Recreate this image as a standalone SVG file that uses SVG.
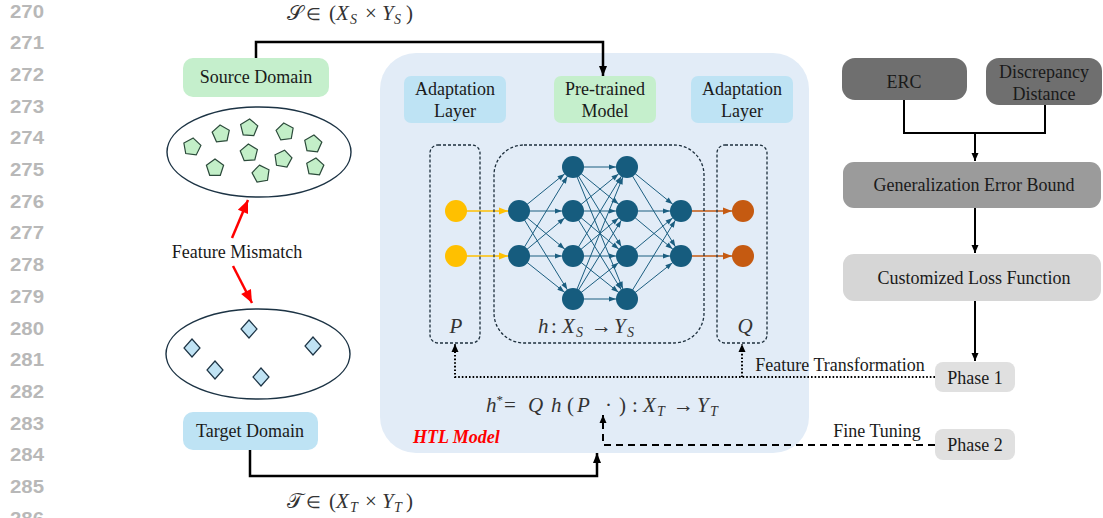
<svg xmlns="http://www.w3.org/2000/svg" width="1103" height="518" viewBox="0 0 1103 518">
<defs>
<style>
.ln{font-family:"Liberation Sans",Arial,sans-serif;font-weight:bold;font-size:18px;fill:#b8b8b8;text-anchor:middle}
.t{font-family:"Liberation Serif","Times New Roman",serif;font-size:18px;fill:#1a1a1a;text-anchor:middle}
.m{font-family:"Liberation Serif","Times New Roman",serif;font-size:21px;fill:#333}
.i{font-style:italic}
.sub{font-size:14px;font-style:italic}
.ell{fill:none;stroke:#1c3344;stroke-width:1.4}
.pent{fill:#c3efc8;stroke:#2b4a3a;stroke-width:1.2}
.dia{fill:#c0e3f4;stroke:#1c3344;stroke-width:1.2}
.dbox{fill:none;stroke:#1c2e3c;stroke-width:1.3;stroke-dasharray:3 2}
.nn{stroke:#1b5e80;stroke-width:1;marker-end:url(#mb)}
.blue{fill:#165c7e}
.yel{fill:#ffc000}
.org{fill:#c55a11}
.blk{fill:none;stroke:#000;stroke-width:2.5}
.conn{fill:none;stroke:#000;stroke-width:2}
</style>
<marker id="mb" markerUnits="userSpaceOnUse" viewBox="-7 -3 20 6" markerWidth="20" markerHeight="6" refX="11" refY="0" orient="auto" overflow="visible"><path d="M-7,-2.6 L0,0 L-7,2.6 z" fill="#1b5e80"/></marker>
<marker id="my" markerUnits="userSpaceOnUse" viewBox="-9 -4 22 8" markerWidth="22" markerHeight="8" refX="11" refY="0" orient="auto" overflow="visible"><path d="M-9,-3.5 L0,0 L-9,3.5 z" fill="#ffc000"/></marker>
<marker id="mo" markerUnits="userSpaceOnUse" viewBox="-9 -4 22 8" markerWidth="22" markerHeight="8" refX="11" refY="0" orient="auto" overflow="visible"><path d="M-9,-3.5 L0,0 L-9,3.5 z" fill="#c55a11"/></marker>
<marker id="mk" markerUnits="userSpaceOnUse" viewBox="-10 -4 10 8" markerWidth="10" markerHeight="8" refX="0" refY="0" orient="auto" overflow="visible"><path d="M-10,-4 L0,0 L-10,4 z" fill="#000"/></marker>
<marker id="mks" markerUnits="userSpaceOnUse" viewBox="-8 -3.5 8 7" markerWidth="8" markerHeight="7" refX="0" refY="0" orient="auto" overflow="visible"><path d="M-8,-3.5 L0,0 L-8,3.5 z" fill="#000"/></marker>
<marker id="mr" markerUnits="userSpaceOnUse" viewBox="-13 -5.5 13 11" markerWidth="13" markerHeight="11" refX="0" refY="0" orient="auto" overflow="visible"><path d="M-13,-5.5 L0,0 L-13,5.5 z" fill="#ff0000"/></marker>
</defs>
<rect width="1103" height="518" fill="#fff"/>

<g id="line-numbers">
<text class="ln" x="27" y="17.5" textLength="34" lengthAdjust="spacingAndGlyphs">270</text>
<text class="ln" x="27" y="49.2" textLength="34" lengthAdjust="spacingAndGlyphs">271</text>
<text class="ln" x="27" y="80.9" textLength="34" lengthAdjust="spacingAndGlyphs">272</text>
<text class="ln" x="27" y="112.6" textLength="34" lengthAdjust="spacingAndGlyphs">273</text>
<text class="ln" x="27" y="144.3" textLength="34" lengthAdjust="spacingAndGlyphs">274</text>
<text class="ln" x="27" y="176" textLength="34" lengthAdjust="spacingAndGlyphs">275</text>
<text class="ln" x="27" y="207.7" textLength="34" lengthAdjust="spacingAndGlyphs">276</text>
<text class="ln" x="27" y="239.4" textLength="34" lengthAdjust="spacingAndGlyphs">277</text>
<text class="ln" x="27" y="271.1" textLength="34" lengthAdjust="spacingAndGlyphs">278</text>
<text class="ln" x="27" y="302.8" textLength="34" lengthAdjust="spacingAndGlyphs">279</text>
<text class="ln" x="27" y="334.5" textLength="34" lengthAdjust="spacingAndGlyphs">280</text>
<text class="ln" x="27" y="366.2" textLength="34" lengthAdjust="spacingAndGlyphs">281</text>
<text class="ln" x="27" y="397.9" textLength="34" lengthAdjust="spacingAndGlyphs">282</text>
<text class="ln" x="27" y="429.6" textLength="34" lengthAdjust="spacingAndGlyphs">283</text>
<text class="ln" x="27" y="461.3" textLength="34" lengthAdjust="spacingAndGlyphs">284</text>
<text class="ln" x="27" y="493" textLength="34" lengthAdjust="spacingAndGlyphs">285</text>
<text class="ln" x="27" y="524.7" textLength="34" lengthAdjust="spacingAndGlyphs">286</text>
</g>

<g id="htl-model">
<rect x="380" y="53" width="429" height="400" rx="36" fill="#e2ecf7"/>
<text x="413" y="443" font-family="Liberation Serif,serif" font-size="18" font-weight="bold" font-style="italic" fill="#ff0000">HTL Model</text>
</g>

<g id="connectors">
<polyline class="blk" points="256,58 256,42 603,42 603,76" marker-end="url(#mk)"/>
<polyline class="blk" points="250,450 250,476 597,476 597,453" marker-end="url(#mk)"/>
<line x1="232" y1="238" x2="248" y2="200" stroke="#ff0000" stroke-width="2.5" marker-end="url(#mr)"/>
<line x1="233" y1="266" x2="252" y2="303" stroke="#ff0000" stroke-width="2.5" marker-end="url(#mr)"/>
<polyline points="935,377 455,377 455,344" fill="none" stroke="#000" stroke-width="2" stroke-dasharray="1.6 2" marker-end="url(#mks)"/>
<polyline points="742,377 742,344" fill="none" stroke="#000" stroke-width="2" stroke-dasharray="1.6 2" marker-end="url(#mks)"/>
<polyline points="935,445 603,445 603,415" fill="none" stroke="#000" stroke-width="2" stroke-dasharray="7 5" marker-end="url(#mks)"/>
<polyline class="conn" points="904,100 904,133 1045,133 1045,105"/>
<line class="conn" x1="975" y1="133" x2="975" y2="161" marker-end="url(#mks)"/>
<line class="conn" x1="975" y1="208" x2="975" y2="253" marker-end="url(#mks)"/>
<line class="conn" x1="975" y1="301" x2="975" y2="361" marker-end="url(#mks)"/>
<line x1="456" y1="211" x2="519" y2="211" stroke="#ffc000" stroke-width="1.6" marker-end="url(#my)"/>
<line x1="456" y1="256" x2="519" y2="256" stroke="#ffc000" stroke-width="1.6" marker-end="url(#my)"/>
<line x1="681" y1="211" x2="743" y2="211" stroke="#c55a11" stroke-width="1.6" marker-end="url(#mo)"/>
<line x1="681" y1="256" x2="743" y2="256" stroke="#c55a11" stroke-width="1.6" marker-end="url(#mo)"/>
<g id="nn-edges">
<line class="nn" x1="519" y1="211" x2="573" y2="167"/><line class="nn" x1="519" y1="211" x2="573" y2="211"/><line class="nn" x1="519" y1="211" x2="573" y2="256"/><line class="nn" x1="519" y1="211" x2="573" y2="299"/>
<line class="nn" x1="519" y1="256" x2="573" y2="167"/><line class="nn" x1="519" y1="256" x2="573" y2="211"/><line class="nn" x1="519" y1="256" x2="573" y2="256"/><line class="nn" x1="519" y1="256" x2="573" y2="299"/>
<line class="nn" x1="573" y1="167" x2="627" y2="167"/><line class="nn" x1="573" y1="167" x2="627" y2="211"/><line class="nn" x1="573" y1="167" x2="627" y2="256"/><line class="nn" x1="573" y1="167" x2="627" y2="299"/>
<line class="nn" x1="573" y1="211" x2="627" y2="167"/><line class="nn" x1="573" y1="211" x2="627" y2="211"/><line class="nn" x1="573" y1="211" x2="627" y2="256"/><line class="nn" x1="573" y1="211" x2="627" y2="299"/>
<line class="nn" x1="573" y1="256" x2="627" y2="167"/><line class="nn" x1="573" y1="256" x2="627" y2="211"/><line class="nn" x1="573" y1="256" x2="627" y2="256"/><line class="nn" x1="573" y1="256" x2="627" y2="299"/>
<line class="nn" x1="573" y1="299" x2="627" y2="167"/><line class="nn" x1="573" y1="299" x2="627" y2="211"/><line class="nn" x1="573" y1="299" x2="627" y2="256"/><line class="nn" x1="573" y1="299" x2="627" y2="299"/>
<line class="nn" x1="627" y1="167" x2="681" y2="211"/><line class="nn" x1="627" y1="211" x2="681" y2="211"/><line class="nn" x1="627" y1="256" x2="681" y2="211"/><line class="nn" x1="627" y1="299" x2="681" y2="211"/>
<line class="nn" x1="627" y1="167" x2="681" y2="256"/><line class="nn" x1="627" y1="211" x2="681" y2="256"/><line class="nn" x1="627" y1="256" x2="681" y2="256"/><line class="nn" x1="627" y1="299" x2="681" y2="256"/>
</g>
</g>

<g id="source-math"><text class="m" y="20" font-size="20"><tspan x="287">𝒮</tspan><tspan x="306" font-size="17">∈</tspan><tspan x="329">(</tspan><tspan x="336" class="i">X</tspan><tspan class="sub" x="350" dy="4">S</tspan><tspan x="365" dy="-4">×</tspan><tspan x="382" class="i">Y</tspan><tspan class="sub" x="394" dy="4">S</tspan><tspan x="406" dy="-4">)</tspan></text></g>
<g id="target-math"><text class="m" y="508" font-size="20"><tspan x="287">𝒯</tspan><tspan x="306" font-size="17">∈</tspan><tspan x="329">(</tspan><tspan x="336" class="i">X</tspan><tspan class="sub" x="350" dy="4">T</tspan><tspan x="365" dy="-4">×</tspan><tspan x="382" class="i">Y</tspan><tspan class="sub" x="394" dy="4">T</tspan><tspan x="406" dy="-4">)</tspan></text></g>

<g id="source-domain">
<rect x="183" y="58" width="146" height="39" rx="10" fill="#c5efcc"/>
<text class="t" x="256" y="83">Source Domain</text>
</g>
<g id="source-set">
<ellipse class="ell" cx="259" cy="152" rx="92" ry="45"/>
<g id="pentagons">
<polygon class="pent" transform="translate(192,147) rotate(8)" points="0,-9 8.6,-2.8 5.3,7.3 -5.3,7.3 -8.6,-2.8"/>
<polygon class="pent" transform="translate(221,134) rotate(-6)" points="0,-9 8.6,-2.8 5.3,7.3 -5.3,7.3 -8.6,-2.8"/>
<polygon class="pent" transform="translate(249,128) rotate(4)" points="0,-9 8.6,-2.8 5.3,7.3 -5.3,7.3 -8.6,-2.8"/>
<polygon class="pent" transform="translate(285,132) rotate(-8)" points="0,-9 8.6,-2.8 5.3,7.3 -5.3,7.3 -8.6,-2.8"/>
<polygon class="pent" transform="translate(313,144) rotate(6)" points="0,-9 8.6,-2.8 5.3,7.3 -5.3,7.3 -8.6,-2.8"/>
<polygon class="pent" transform="translate(249,153) rotate(-4)" points="0,-9 8.6,-2.8 5.3,7.3 -5.3,7.3 -8.6,-2.8"/>
<polygon class="pent" transform="translate(283,159) rotate(10)" points="0,-9 8.6,-2.8 5.3,7.3 -5.3,7.3 -8.6,-2.8"/>
<polygon class="pent" transform="translate(215,168) rotate(0)" points="0,-9 8.6,-2.8 5.3,7.3 -5.3,7.3 -8.6,-2.8"/>
<polygon class="pent" transform="translate(261,174) rotate(-10)" points="0,-9 8.6,-2.8 5.3,7.3 -5.3,7.3 -8.6,-2.8"/>
<polygon class="pent" transform="translate(315,167) rotate(6)" points="0,-9 8.6,-2.8 5.3,7.3 -5.3,7.3 -8.6,-2.8"/>
</g>
</g>
<g id="feature-mismatch"><text class="t" x="237" y="258">Feature Mismatch</text></g>
<g id="target-set">
<ellipse class="ell" cx="258" cy="354" rx="92" ry="45"/>
<polygon class="dia" points="249,320 257,329 249,338 241,329"/>
<polygon class="dia" points="192,339 200,348 192,357 184,348"/>
<polygon class="dia" points="313,337 321,346 313,355 305,346"/>
<polygon class="dia" points="215,361 223,370 215,379 207,370"/>
<polygon class="dia" points="261,368 269,377 261,386 253,377"/>
</g>
<g id="target-domain">
<rect x="183" y="412" width="135" height="38" rx="10" fill="#bee3f4"/>
<text class="t" x="250" y="437">Target Domain</text>
</g>

<g id="adaptation-left">
<rect x="404" y="76" width="102" height="47" rx="7" fill="#bee3f4"/>
<text class="t" x="455" y="95">Adaptation</text><text class="t" x="455" y="117">Layer</text>
</g>
<g id="pretrained">
<rect x="554" y="76" width="102" height="47" rx="7" fill="#c5efcc"/>
<text class="t" x="605" y="95">Pre-trained</text><text class="t" x="605" y="117">Model</text>
</g>
<g id="adaptation-right">
<rect x="691" y="76" width="102" height="47" rx="7" fill="#bee3f4"/>
<text class="t" x="742" y="95">Adaptation</text><text class="t" x="742" y="117">Layer</text>
</g>

<g id="p-layer">
<rect class="dbox" x="430" y="145" width="50" height="198" rx="8"/>
<circle class="yel" cx="456" cy="211" r="11"/><circle class="yel" cx="456" cy="256" r="11"/>
<text class="m i" x="456" y="333" text-anchor="middle">P</text>
</g>
<g id="h-model">
<rect class="dbox" x="494" y="145" width="210" height="198" rx="30"/>
<circle class="blue" cx="519" cy="211" r="11"/><circle class="blue" cx="519" cy="256" r="11"/>
<circle class="blue" cx="573" cy="167" r="11"/><circle class="blue" cx="573" cy="211" r="11"/><circle class="blue" cx="573" cy="256" r="11"/><circle class="blue" cx="573" cy="299" r="11"/>
<circle class="blue" cx="627" cy="167" r="11"/><circle class="blue" cx="627" cy="211" r="11"/><circle class="blue" cx="627" cy="256" r="11"/><circle class="blue" cx="627" cy="299" r="11"/>
<circle class="blue" cx="681" cy="211" r="11"/><circle class="blue" cx="681" cy="256" r="11"/>
<text class="m" y="333" font-size="20"><tspan x="538" class="i">h</tspan><tspan x="551">:</tspan><tspan x="562" class="i">X</tspan><tspan class="sub" x="576" dy="4">S</tspan><tspan x="591" dy="-4">→</tspan><tspan x="614" class="i">Y</tspan><tspan class="sub" x="627" dy="4">S</tspan></text>
</g>
<g id="q-layer">
<rect class="dbox" x="717" y="145" width="50" height="198" rx="8"/>
<circle class="org" cx="743" cy="211" r="11"/><circle class="org" cx="743" cy="256" r="11"/>
<text class="m i" x="745" y="333" text-anchor="middle">Q</text>
</g>
<g id="formula">
<text class="m" y="412"><tspan x="486" class="i">h</tspan><tspan font-size="13" dy="-8">*</tspan><tspan x="504" dy="8">=</tspan><tspan x="528" class="i">Q</tspan><tspan x="551" class="i">h</tspan><tspan x="567">(</tspan><tspan x="577" class="i">P</tspan><tspan x="605">·</tspan><tspan x="619">)</tspan><tspan x="632">:</tspan><tspan x="643" class="i">X</tspan><tspan class="sub" x="657" dy="4">T</tspan><tspan x="673" dy="-4">→</tspan><tspan x="697" class="i">Y</tspan><tspan class="sub" x="710" dy="4">T</tspan></text>
</g>

<g id="erc">
<rect x="842" y="58" width="125" height="42" rx="13" fill="#6f6f6f"/>
<text class="t" x="904" y="88">ERC</text>
</g>
<g id="discrepancy">
<rect x="986" y="58" width="116" height="47" rx="13" fill="#6f6f6f"/>
<text class="t" x="1044" y="78">Discrepancy</text><text class="t" x="1044" y="100">Distance</text>
</g>
<g id="gen-error">
<rect x="843" y="162" width="258" height="46" rx="11" fill="#9b9b9b"/>
<text class="t" x="974" y="191">Generalization Error Bound</text>
</g>
<g id="loss">
<rect x="843" y="254" width="258" height="47" rx="11" fill="#d6d6d6"/>
<text class="t" x="974" y="284">Customized Loss Function</text>
</g>
<g id="phase1">
<rect x="935" y="362" width="80" height="30" rx="8" fill="#e0e0e0"/>
<text class="t" x="975" y="384">Phase 1</text>
</g>
<g id="phase2">
<rect x="935" y="429" width="80" height="31" rx="8" fill="#e0e0e0"/>
<text class="t" x="975" y="451">Phase 2</text>
</g>
<g id="edge-labels">
<text class="t" x="840" y="371">Feature Transformation</text>
<text class="t" x="877" y="437">Fine Tuning</text>
</g>
</svg>
